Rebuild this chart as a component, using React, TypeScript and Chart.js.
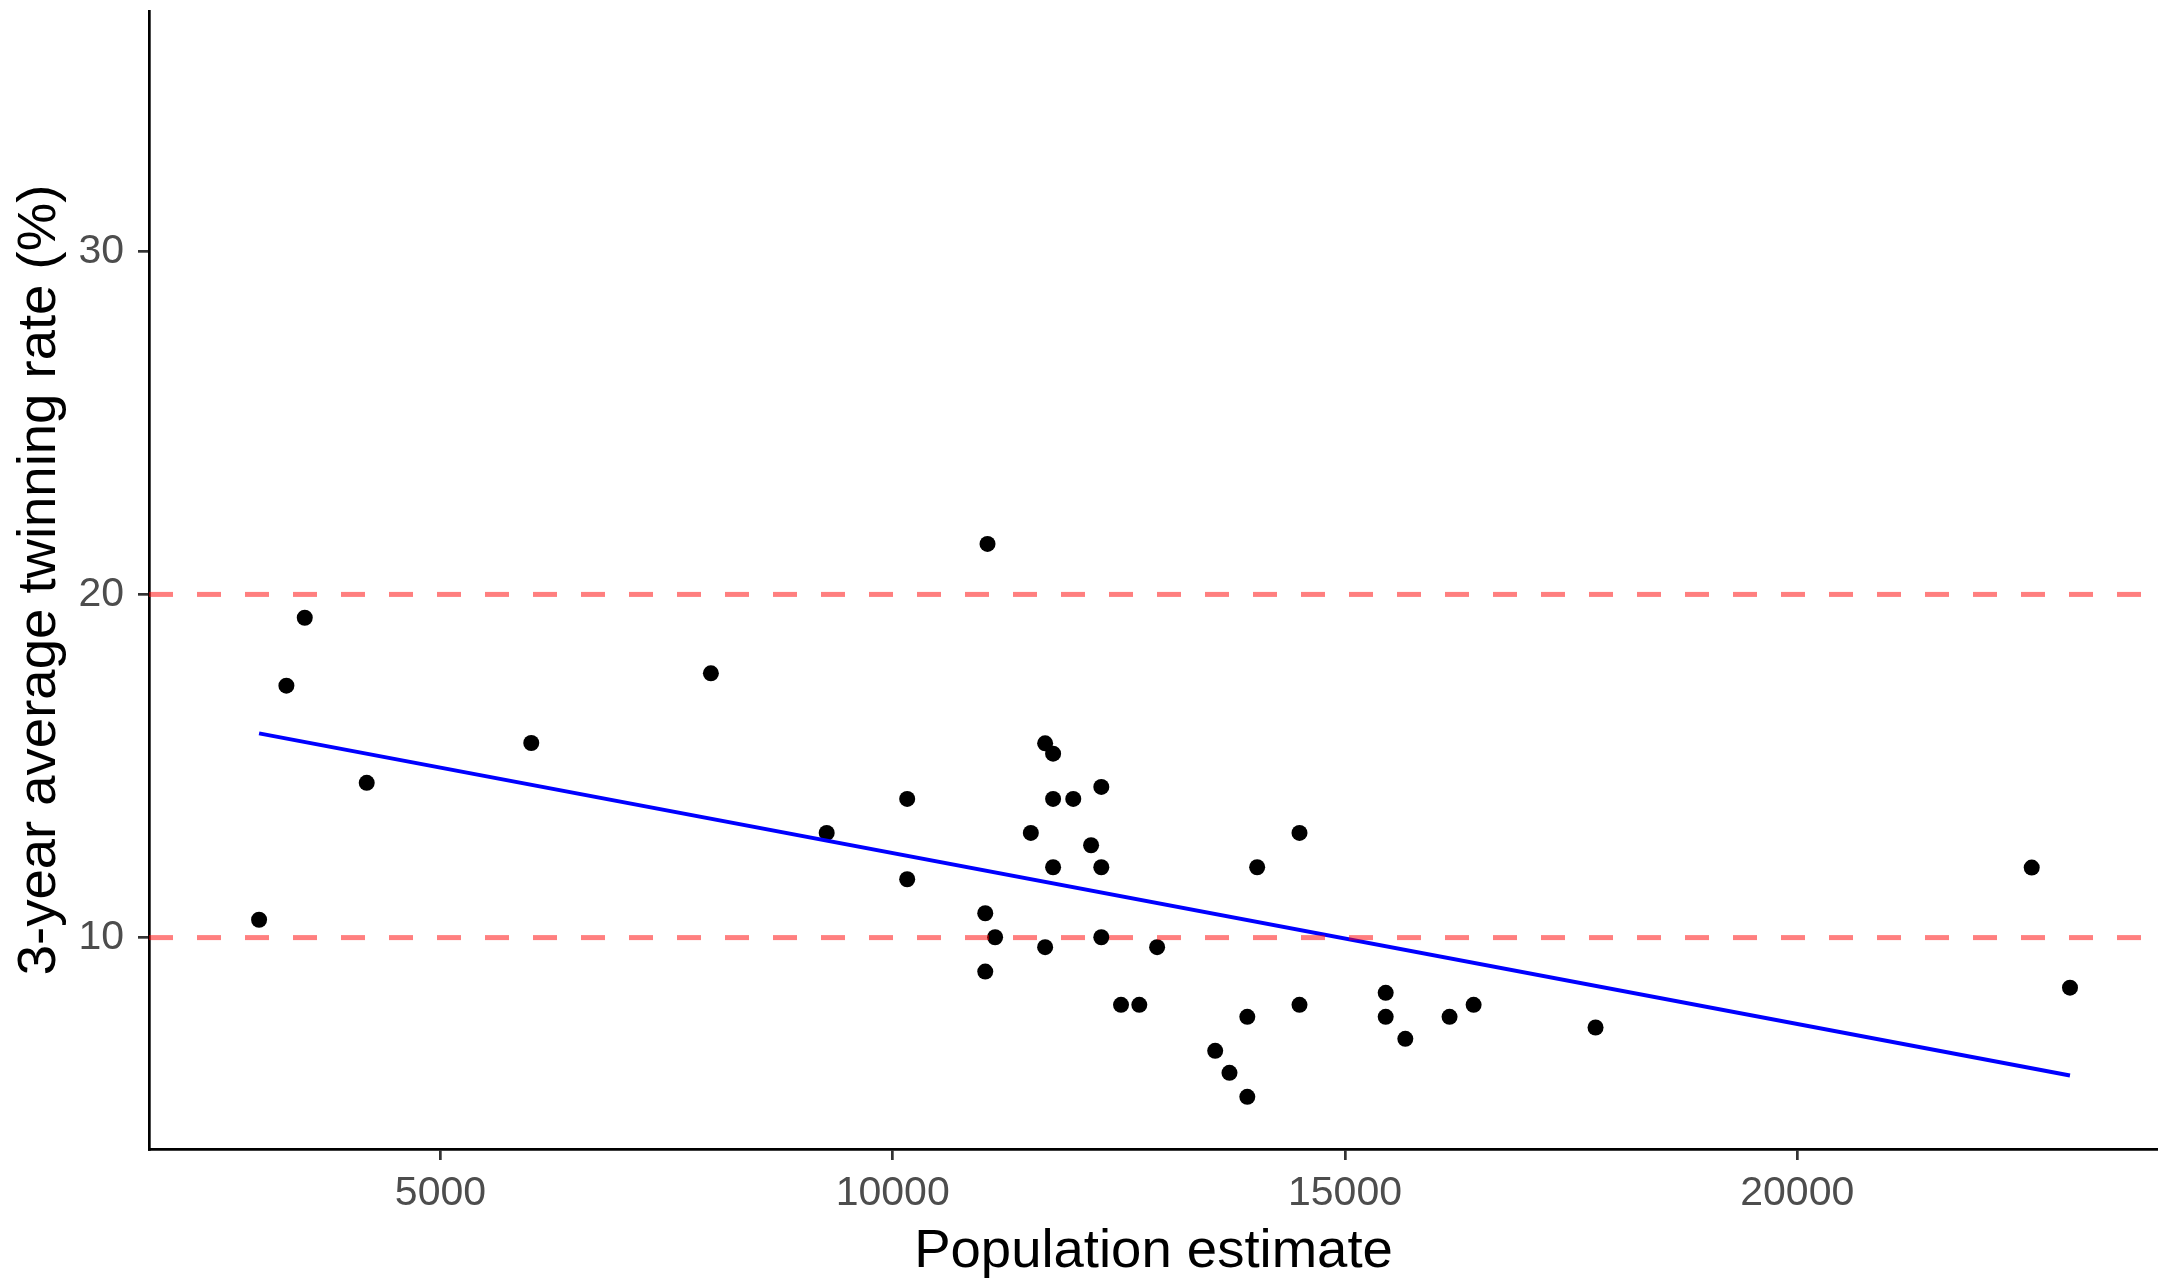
import React, { useEffect, useRef } from 'react';
import { Chart, registerables } from 'chart.js';

Chart.register(...registerables);

// Observed data: population estimate vs 3-year average twinning rate (%)
const populationEstimate = [
  2995, 3297, 3500, 4185, 6004, 7990, 9270, 10160, 10160, 11048,
  11023, 11023, 11132, 11527, 11685, 11773, 11773, 11773, 11685, 11996,
  12193, 12306, 12306, 12306, 12524, 12726, 12923, 13565, 13723, 13920,
  13920, 14029, 14497, 14497, 15450, 15450, 15667, 16156, 16422, 17770,
  22592, 23015,
];
const twinningRate = [
  10.52, 17.34, 19.32, 14.51, 15.67, 17.7, 13.05, 14.04, 11.7, 21.47,
  10.71, 9.01, 10.01, 13.05, 15.66, 15.36, 14.04, 12.05, 9.72, 14.04,
  12.69, 14.39, 12.05, 10.01, 8.04, 8.04, 9.72, 6.7, 6.06, 5.36,
  7.69, 12.05, 13.05, 8.04, 8.39, 7.69, 7.05, 7.69, 8.04, 7.38,
  12.04, 8.54,
];

// Fitted trend line (end points)
const trendPopulation = [2995, 23015];
const trendRate = [15.95, 5.98];

// Reference (dashed) lines
const referenceRates = [10, 20];

// Axes
const xTickValues = [5000, 10000, 15000, 20000];
const yTickValues = [10, 20, 30];
const xRange = [1778, 23988];
const yRange = [3.84, 37.0];

const xTitle = 'Population estimate';
const yTitle = '3-year average twinning rate (%)';

const FONT = "'Liberation Sans', Arial, sans-serif";

export default function App() {
  const ref = useRef<HTMLCanvasElement | null>(null);

  useEffect(() => {
    document.body.style.margin = '0';
    document.body.style.overflow = 'hidden';
    const canvas = ref.current;
    if (!canvas) return;

    const points = populationEstimate.map((x, i) => ({ x, y: twinningRate[i] }));

    const datasets: any[] = [
      ...referenceRates.map((r) => ({
        type: 'line',
        data: [
          { x: xRange[0], y: r },
          { x: xRange[1], y: r },
        ],
        borderColor: 'rgba(255,0,0,0.5)',
        borderWidth: 5,
        borderDash: [24, 24],
        borderCapStyle: 'butt',
        pointRadius: 0,
        showLine: true,
        fill: false,
        tension: 0,
      })),
      {
        type: 'line',
        data: trendPopulation.map((x, i) => ({ x, y: trendRate[i] })),
        borderColor: '#0000FF',
        borderWidth: 4,
        pointRadius: 0,
        showLine: true,
        fill: false,
        tension: 0,
      },
      {
        type: 'scatter',
        data: points,
        backgroundColor: '#000000',
        borderColor: '#000000',
        borderWidth: 0,
        pointRadius: 8,
        pointHoverRadius: 8,
      },
    ];

    const grid = {
      display: true,
      drawOnChartArea: false,
      drawTicks: true,
      tickLength: 11,
      tickWidth: 2.7,
      tickColor: '#333333',
      color: '#333333',
      lineWidth: 2.7,
    };

    const chart = new Chart(canvas, {
      type: 'scatter',
      data: { datasets },
      options: {
        animation: false,
        responsive: false,
        maintainAspectRatio: false,
        events: [],
        layout: { autoPadding: false, padding: { top: 11, left: 0, right: 0, bottom: 0 } },
        plugins: {
          legend: { display: false },
          tooltip: { enabled: false },
        },
        scales: {
          x: {
            type: 'linear',
            min: xRange[0],
            max: xRange[1],
            afterBuildTicks: (scale: any) => {
              scale.ticks = xTickValues.map((v) => ({ value: v }));
            },
            afterFit: (scale: any) => {
              scale.height = 132;
              scale.paddingLeft = 0;
              scale.paddingRight = 0;
            },
            ticks: {
              autoSkip: false,
              maxRotation: 0,
              padding: 9,
              color: '#4D4D4D',
              font: { family: FONT, size: 41 },
              callback: (v: any) => String(v),
            },
            grid,
            border: { display: true, color: '#000000', width: 2.7 },
            title: {
              display: true,
              text: xTitle,
              color: '#000000',
              font: { family: FONT, size: 54.5 },
              padding: { top: 0, bottom: -4 },
            },
          },
          y: {
            type: 'linear',
            min: yRange[0],
            max: yRange[1],
            afterBuildTicks: (scale: any) => {
              scale.ticks = yTickValues.map((v) => ({ value: v }));
            },
            afterFit: (scale: any) => {
              scale.width = 149;
              scale.paddingTop = 0;
              scale.paddingBottom = 0;
            },
            ticks: {
              autoSkip: false,
              padding: 14,
              color: '#4D4D4D',
              font: { family: FONT, size: 41 },
              callback: (v: any) => String(v),
            },
            grid,
            border: { display: true, color: '#000000', width: 2.7 },
            title: {
              display: true,
              text: yTitle,
              color: '#000000',
              font: { family: FONT, size: 54.5 },
              padding: { top: 7, bottom: 0 },
            },
          },
        },
      } as any,
    });

    return () => {
      chart.destroy();
    };
  }, []);

  return (
    <div style={{ width: 2158, height: 1281, background: '#ffffff' }}>
      <canvas ref={ref} width={2158} height={1281} style={{ display: 'block' }} />
    </div>
  );
}
